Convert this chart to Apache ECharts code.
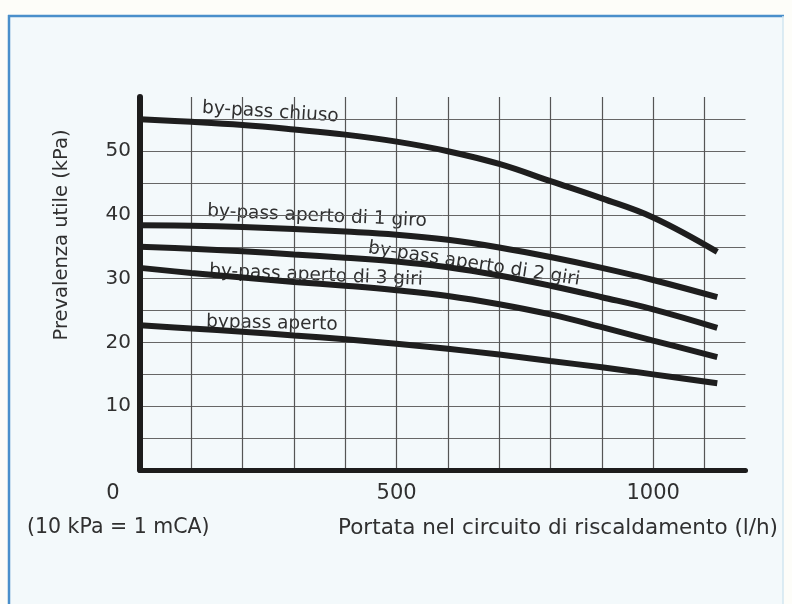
<!DOCTYPE html>
<html>
<head>
<meta charset="utf-8">
<script src="https://cdn.jsdelivr.net/npm/echarts@6/dist/echarts.min.js"></script>
<style>
html,body{margin:0;padding:0;background:#fdfdf9;}
#chart{width:792px;height:604px;}
</style>
</head>
<body>
<div id="chart"></div>
<script>
// ---- data ----
const flowValues = [0, 100, 200, 300, 400, 500, 600, 700, 800, 900, 1000, 1125];
const bypassChiuso = [55.0, 54.6, 54.1, 53.4, 52.6, 51.5, 50.0, 48.0, 45.3, 42.6, 39.6, 34.2];
const aperto1Giro  = [38.4, 38.3, 38.1, 37.8, 37.4, 36.9, 36.1, 34.9, 33.4, 31.7, 29.8, 27.1];
const aperto2Giri  = [35.0, 34.7, 34.3, 33.8, 33.3, 32.7, 31.8, 30.5, 28.9, 27.1, 25.2, 22.3];
const aperto3Giri  = [31.7, 30.9, 30.2, 29.5, 28.9, 28.2, 27.3, 26.0, 24.4, 22.4, 20.3, 17.7];
const bypassAperto = [22.7, 22.2, 21.7, 21.1, 20.5, 19.8, 19.0, 18.1, 17.1, 16.1, 15.0, 13.6];
const seriesNames = ['by-pass chiuso', 'by-pass aperto di 1 giro', 'by-pass aperto di 2 giri', 'by-pass aperto di 3 giri', 'bypass aperto'];
const xTickLabels = [0, 500, 1000];
const yTickLabels = [10, 20, 30, 40, 50];
const yAxisTitle = 'Prevalenza utile (kPa)';
const xAxisTitle = 'Portata nel circuito di riscaldamento (l/h)';
const unitNote = '(10 kPa = 1 mCA)';

// ---- annotation placement (data coords) ----
const labelAnchors = [
  {text: seriesNames[0], at: [254, 56.1], deg: -3.6},
  {text: seriesNames[1], at: [345, 39.8], deg: -2.6},
  {text: seriesNames[2], at: [651, 32.3], deg: -8.6},
  {text: seriesNames[3], at: [343, 30.5], deg: -2.4},
  {text: seriesNames[4], at: [257, 23.0], deg: -1.3}
];

const FONT = '"DejaVu Sans", "Liberation Sans", sans-serif';
const TXT = '#303030';
const chart = echarts.init(document.getElementById('chart'), null, {renderer: 'canvas'});

const allSeries = [bypassChiuso, aperto1Giro, aperto2Giri, aperto3Giri, bypassAperto];

function baseGraphic() {
  return [
    {type: 'rect', id: 'bg', z: -20, silent: true,
     shape: {x: 9, y: 16, width: 774, height: 600},
     style: {fill: '#f3f9fb'}},
    {type: 'line', id: 'bt', z: -19, shape: {x1: 8, y1: 16, x2: 784, y2: 16},
     style: {stroke: '#4a8fcb', lineWidth: 2.5}},
    {type: 'line', id: 'bl', z: -19, shape: {x1: 9, y1: 15, x2: 9, y2: 604},
     style: {stroke: '#4a8fcb', lineWidth: 2.5}},
    {type: 'line', id: 'br', z: -19, shape: {x1: 783, y1: 16, x2: 783, y2: 604},
     style: {stroke: '#d2e6f1', lineWidth: 1.5}},
    {type: 'text', id: 'yname', x: 62, y: 235, rotation: Math.PI / 2,
     style: {text: yAxisTitle, fontFamily: FONT, fontSize: 19.5, fill: TXT,
             align: 'center', verticalAlign: 'middle'}},
    {type: 'text', id: 'unit', x: 27, y: 528,
     style: {text: unitNote, fontFamily: FONT, fontSize: 20.5, fill: TXT,
             align: 'left', verticalAlign: 'middle'}},
    {type: 'text', id: 'xname', x: 778, y: 528,
     style: {text: xAxisTitle, fontFamily: FONT, fontSize: 21.5, fill: TXT,
             align: 'right', verticalAlign: 'middle'}}
  ];
}

const option = {
  backgroundColor: '#fdfdf9',
  animation: false,
  grid: {left: 140, right: 46.5, top: 97, bottom: 134, containLabel: false},
  xAxis: {
    type: 'value', min: 0, max: 1180, interval: 100,
    axisLine: {show: true, onZero: false, lineStyle: {color: '#1c1c1c', width: 5}},
    axisTick: {show: false},
    splitLine: {show: true, showMinLine: false, showMaxLine: false,
                lineStyle: {color: '#555', width: 1.2}},
    axisLabel: {
      margin: 13, fontFamily: FONT, fontSize: 21, color: TXT,
      formatter: function (v) {
        if (v === 0 && xTickLabels.indexOf(0) >= 0) return '{z|0}';
        return xTickLabels.indexOf(v) >= 0 ? String(v) : '';
      },
      rich: {z: {fontFamily: FONT, fontSize: 21, color: TXT, padding: [0, 54, 0, 0]}}
    }
  },
  yAxis: {
    type: 'value', min: 0, max: 58.5, interval: 5,
    axisLine: {show: true, onZero: false, lineStyle: {color: '#1c1c1c', width: 6}},
    axisTick: {show: false},
    splitLine: {show: true, showMinLine: false, showMaxLine: false,
                lineStyle: {color: '#666', width: 1}},
    axisLabel: {
      margin: 9, fontFamily: FONT, fontSize: 20, color: TXT,
      formatter: function (v) { return yTickLabels.indexOf(v) >= 0 ? String(v) : ''; }
    }
  },
  series: allSeries.map(function (arr, i) {
    return {
      name: seriesNames[i], type: 'line', smooth: 0.4, symbol: 'none',
      lineStyle: {color: '#1e1e1e', width: 6},
      data: flowValues.map(function (x, j) { return [x, arr[j]]; })
    };
  }),
  graphic: baseGraphic()
};
chart.setOption(option);

const labelGraphics = labelAnchors.map(function (a, i) {
  const p = chart.convertToPixel({gridIndex: 0}, a.at);
  return {type: 'text', id: 'lab' + i, x: p[0], y: p[1], rotation: a.deg * Math.PI / 180,
          style: {text: a.text, fontFamily: FONT, fontSize: 18.5, fill: TXT,
                  align: 'center', verticalAlign: 'middle'}};
});
chart.setOption({graphic: baseGraphic().concat(labelGraphics)});
</script>
</body>
</html>
